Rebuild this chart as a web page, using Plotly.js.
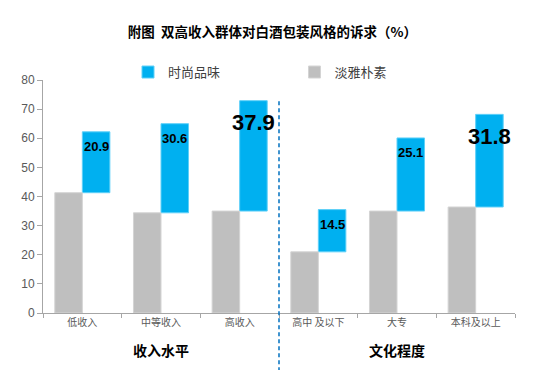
<!DOCTYPE html>
<html>
<head>
<meta charset="utf-8">
<script src="https://cdn.plot.ly/plotly-3.0.1.min.js"></script>
<style>html,body{margin:0;padding:0;background:#fff;}#chart{width:556px;height:370px;}</style>
</head>
<body>
<div id="chart"></div>
<script>
var categories = ['低收入', '中等收入', '高收入', '高中 及以下', '大专', '本科及以上'];
var plainValues = [41.3, 34.4, 35.0, 21.0, 35.0, 36.4];   // 淡雅朴素
var fashionValues = [20.9, 30.6, 37.9, 14.5, 25.1, 31.8]; // 时尚品味
var labelSizes = [13, 13, 22, 13, 13, 22];
var groupLabels = ['收入水平', '文化程度'];
var groupCenters = [categories[1], categories[4]];
var yTicks = [0, 10, 20, 30, 40, 50, 60, 70, 80];

var cjk = '"Noto Sans CJK SC", "Liberation Sans", sans-serif';
var bw = 0.35;

var traceFashion = {
  type: 'bar', name: '时尚品味', x: categories, y: fashionValues, base: plainValues,
  width: bw, offset: 0,
  marker: {color: '#00B0F0', line: {color: '#5FD0F8', width: 1}},
  hoverinfo: 'none'
};
var tracePlain = {
  type: 'bar', name: '淡雅朴素', x: categories, y: plainValues,
  width: bw, offset: -bw,
  marker: {color: '#BFBFBF', line: {color: '#D4D4D4', width: 1}},
  hoverinfo: 'none'
};

var annotations = [];
for (var i = 0; i < categories.length; i++) {
  var big = labelSizes[i] > 15;
  annotations.push({
    x: categories[i], y: plainValues[i] + fashionValues[i], xref: 'x', yref: 'y',
    text: fashionValues[i].toFixed(1), showarrow: false,
    xanchor: 'center', yanchor: 'middle', xshift: 13.8, yshift: big ? -22 : -15,
    font: {family: '"Liberation Sans", Arial, sans-serif', size: labelSizes[i], color: '#000000', weight: 'bold'}
  });
}
for (var g = 0; g < groupLabels.length; g++) {
  annotations.push({
    x: groupCenters[g], y: -0.158, xref: 'x', yref: 'paper',
    text: '<b>' + groupLabels[g] + '</b>', showarrow: false,
    xanchor: 'center', yanchor: 'middle',
    font: {family: cjk, size: 14, color: '#000000'}
  });
}

var layout = {
  width: 556, height: 370,
  margin: {l: 43, r: 41, t: 80, b: 57},
  paper_bgcolor: '#ffffff', plot_bgcolor: '#ffffff',
  barmode: 'overlay',
  title: {
    text: '<b>附图  双高收入群体对白酒包装风格的诉求（%）</b>',
    x: 0.49, xanchor: 'center', y: 0.913, yanchor: 'middle',
    font: {family: cjk, size: 13.5, color: '#000000'}
  },
  showlegend: true,
  legend: {
    orientation: 'h', x: (128 - 43) / 472, xanchor: 'left', y: 1.034, yanchor: 'middle',
    entrywidth: 121.5, entrywidthmode: 'pixels',
    font: {family: cjk, size: 13, color: '#404040'},
    bgcolor: 'rgba(0,0,0,0)', itemclick: false
  },
  xaxis: {
    type: 'category', range: [-0.5, 5.5], tickson: 'boundaries',
    ticks: 'outside', ticklen: 4, tickcolor: '#A6A6A6',
    showline: true, linecolor: '#A6A6A6', linewidth: 1,
    showgrid: false, zeroline: false, fixedrange: true,
    tickfont: {family: cjk, size: 10, color: '#595959'}
  },
  yaxis: {
    range: [0, 80], tickvals: yTicks, ticktext: yTicks.map(String),
    ticks: 'outside', ticklen: 5, tickcolor: '#A6A6A6',
    showline: true, linecolor: '#A6A6A6', linewidth: 1,
    showgrid: false, zeroline: false, fixedrange: true,
    tickfont: {family: '"Liberation Sans", Arial, sans-serif', size: 12, color: '#595959'}
  },
  shapes: [{
    type: 'line', xref: 'x', yref: 'paper', x0: 2.5, x1: 2.5, y0: -0.25, y1: 0.914,
    line: {color: '#0070C0', width: 1.5, dash: '4px,3px'}
  }],
  annotations: annotations
};

Plotly.newPlot('chart', [traceFashion, tracePlain], layout, {displayModeBar: false, staticPlot: true});
</script>
</body>
</html>
